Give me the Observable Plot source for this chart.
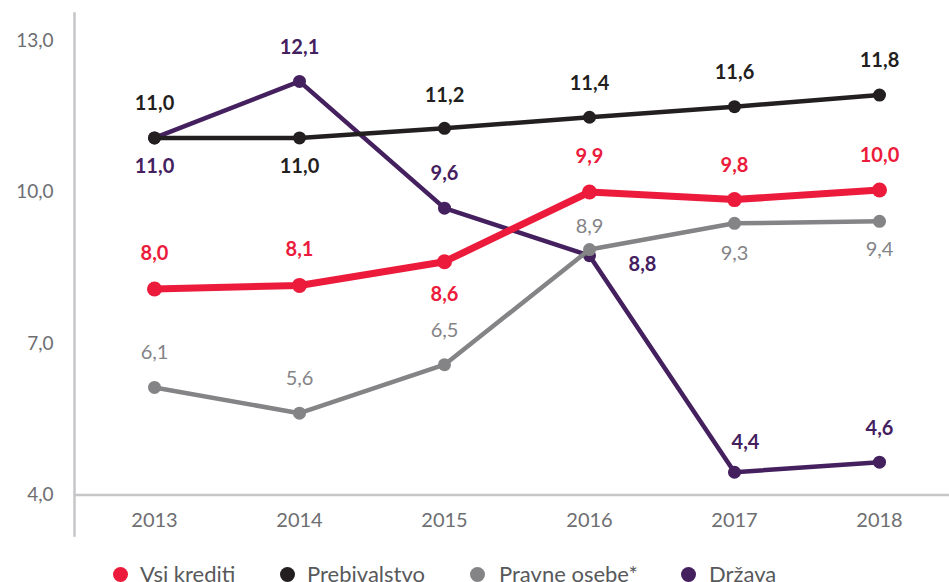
<!DOCTYPE html>
<html>
<head>
<meta charset="utf-8">
<script src="https://cdn.jsdelivr.net/npm/d3@7"></script>
<script src="https://cdn.jsdelivr.net/npm/@observablehq/plot@0.6"></script>
<style>
  body { margin: 0; background: #fff; font-family: Lato, "Open Sans", sans-serif; }
  #chart svg { display: block; }
  #legend { position: relative; width: 949px; height: 37px; }
  .sw { position: absolute; width: 15px; height: 15px; border-radius: 50%; top: 21.5px; }
  .lt { position: absolute; top: 14px; font-size: 22px; line-height: 30px; color: #58595b; white-space: nowrap; }
</style>
</head>
<body>
<div id="chart"></div>
<div id="legend"></div>
<script>
// ---- data ----
const years = [2013, 2014, 2015, 2016, 2017, 2018];
const seriesNames = ["Vsi krediti", "Prebivalstvo", "Pravne osebe*", "Država"];

const vsiKrediti = [8.08, 8.15, 8.62, 10.00, 9.85, 10.04];
const vsiKreditiLabels = ["8,0", "8,1", "8,6", "9,9", "9,8", "10,0"];

const prebivalstvo = [11.07, 11.07, 11.26, 11.48, 11.69, 11.92];
const prebivalstvoLabels = ["11,0", "11,0", "11,2", "11,4", "11,6", "11,8"];

const pravneOsebe = [6.13, 5.62, 6.58, 8.86, 9.38, 9.42];
const pravneOsebeLabels = ["6,1", "5,6", "6,5", "8,9", "9,3", "9,4"];

const drzava = [11.07, 12.19, 9.68, 8.74, 4.45, 4.65];
const drzavaLabels = ["11,0", "12,1", "9,6", "8,8", "4,4", "4,6"];

const yTicks = [4, 7, 10, 13];
const yTickLabels = ["4,0", "7,0", "10,0", "13,0"];

// ---- styling (kept apart from data) ----
const styles = {
  "Vsi krediti":   { color: "#ec1b3b", width: 7,   r: 7.5, weight: "bold",   labelColor: "#ec1b3b" },
  "Prebivalstvo":  { color: "#231f20", width: 4.5, r: 6.5, weight: "bold",   labelColor: "#231f20" },
  "Pravne osebe*": { color: "#848487", width: 4.5, r: 6.5, weight: "normal", labelColor: "#848487" },
  "Država":        { color: "#44205f", width: 4.5, r: 6.5, weight: "bold",   labelColor: "#44205f" }
};
// label offsets [dx, dy] per point
const labelOffsets = {
  "Vsi krediti":   [[0,-35],[0,-36],[0,33],[0,-35],[0,-34],[0,-34]],
  "Prebivalstvo":  [[0,-34],[0,29],[0,-33],[0,-34],[0,-34],[0,-34]],
  "Pravne osebe*": [[0,-35],[0,-35],[0,-34],[0,-23],[0,30],[0,28]],
  "Država":        [[0,29],[0,-34],[0,-35],[53,9],[11,-30],[0,-34]]
};

const seriesValues = {
  "Vsi krediti": [vsiKrediti, vsiKreditiLabels],
  "Prebivalstvo": [prebivalstvo, prebivalstvoLabels],
  "Pravne osebe*": [pravneOsebe, pravneOsebeLabels],
  "Država": [drzava, drzavaLabels]
};

function rows(name) {
  const [vals, labs] = seriesValues[name];
  return years.map((y, i) => ({ year: y, value: vals[i], label: labs[i], i, series: name }));
}

const drawOrder = ["Država", "Pravne osebe*", "Vsi krediti", "Prebivalstvo"];
const marks = [];

// axes lines
marks.push(Plot.frame({ anchor: "left", stroke: "#c6c6c8", strokeWidth: 2.5 }));
marks.push(Plot.ruleY([yTicks[0]], { stroke: "#c6c6c8", strokeWidth: 2.5 }));

// y tick labels
marks.push(Plot.text(yTicks, {
  y: d => d, text: (d, i) => yTickLabels[i], frameAnchor: "left",
  textAnchor: "end", dx: -21, fontSize: 19, fill: "#6d6e71", lineAnchor: "middle"
}));
// x tick labels
marks.push(Plot.text(years, {
  x: d => d, text: d => String(d), frameAnchor: "bottom", dy: -15,
  fontSize: 20, fill: "#6d6e71", lineAnchor: "middle"
}));

for (const name of drawOrder) {
  const s = styles[name];
  const data = rows(name);
  marks.push(Plot.line(data, { x: "year", y: "value", stroke: s.color, strokeWidth: s.width, curve: "linear" }));
  marks.push(Plot.dot(data, { x: "year", y: "value", fill: s.color, r: s.r, stroke: "none" }));
}
for (const name of drawOrder) {
  const s = styles[name];
  rows(name).forEach((d) => {
    const [dx, dy] = labelOffsets[name][d.i];
    marks.push(Plot.text([d], {
      x: "year", y: "value", text: "label", dx, dy,
      fill: s.labelColor, fontSize: 20, fontWeight: s.weight, lineAnchor: "middle"
    }));
  });
}

const chart = Plot.plot({
  width: 949,
  height: 545,
  marginLeft: 74,
  marginRight: 0,
  marginTop: 13,
  marginBottom: 10,
  x: { type: "point", domain: years, range: [153.3, 880], padding: 0, axis: null },
  y: { domain: [4, 13], range: [494.5, 40], axis: null },
  style: { fontFamily: "Lato, 'Open Sans', sans-serif", background: "#fff", overflow: "visible" },
  marks
});
document.getElementById("chart").appendChild(chart);

// legend (HTML below the svg)
const legendPos = { "Vsi krediti": [112.5, 140], "Prebivalstvo": [279.5, 307], "Pravne osebe*": [469.5, 499], "Država": [680.5, 709] };
const legend = document.getElementById("legend");
for (const name of seriesNames) {
  const [cx, tx] = legendPos[name];
  const sw = document.createElement("div");
  sw.className = "sw";
  sw.style.left = cx + "px";
  sw.style.background = styles[name].color;
  legend.appendChild(sw);
  const t = document.createElement("div");
  t.className = "lt";
  t.style.left = tx + "px";
  t.textContent = name;
  legend.appendChild(t);
}
</script>
</body>
</html>
